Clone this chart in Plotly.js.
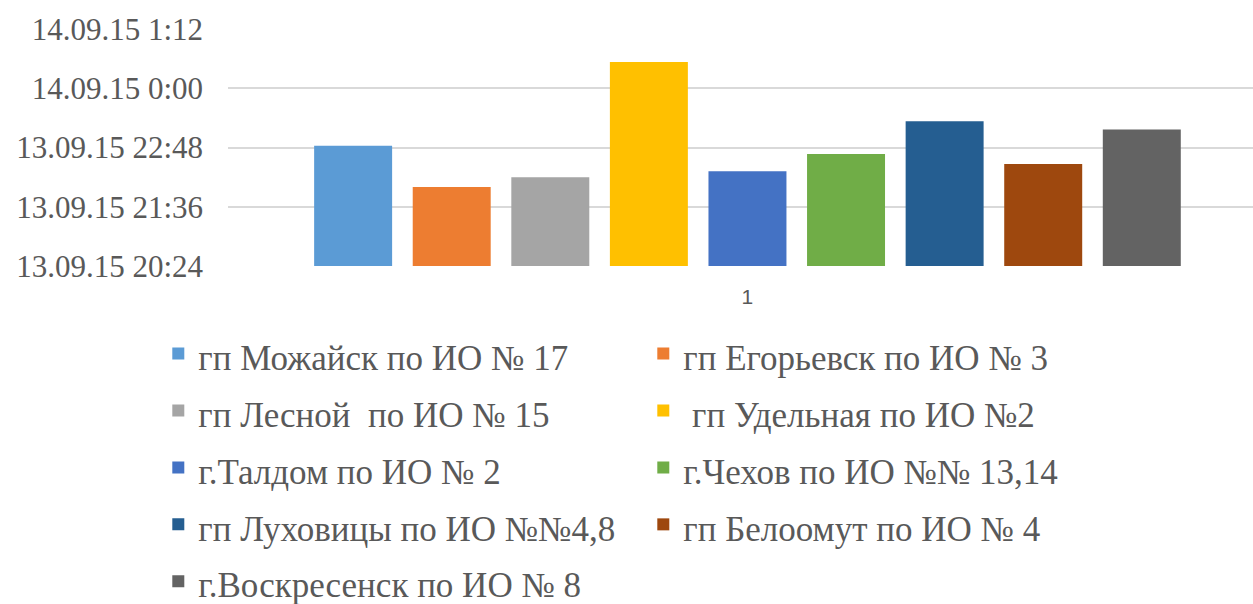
<!DOCTYPE html>
<html>
<head>
<meta charset="utf-8">
<script src="https://cdn.plot.ly/plotly-3.0.1.min.js"></script>
<style>
html,body{margin:0;padding:0;background:#fff;}
#chart{position:absolute;left:0;top:0;width:1253px;height:604px;}
#fontwarm{position:absolute;left:-10000px;top:0;font-family:'Liberation Serif';font-size:31px;}
</style>
</head>
<body>
<div id="fontwarm" aria-hidden="true">13.09.15 гп</div>
<div id="chart"></div>
<script>
// Data
var category = ['1'];
var seriesNames = [
  'гп Можайск по ИО № 17',
  'гп Егорьевск по ИО № 3',
  'гп Лесной  по ИО № 15',
  ' гп Удельная по ИО №2',
  'г.Талдом по ИО № 2',
  'г.Чехов по ИО №№ 13,14',
  'гп Луховицы по ИО №№4,8',
  'гп Белоомут по ИО № 4',
  'г.Воскресенск по ИО № 8'
];
var seriesTimes = [
  '2015-09-13T22:50',
  '2015-09-13T22:00',
  '2015-09-13T22:12',
  '2015-09-14T00:32',
  '2015-09-13T22:19',
  '2015-09-13T22:40',
  '2015-09-13T23:20',
  '2015-09-13T22:28',
  '2015-09-13T23:10'
];
var seriesColors = ['#5B9BD5','#ED7D31','#A5A5A5','#FFC000','#4472C4','#70AD47','#255E91','#9E480E','#636363'];
var axisStart = '2015-09-13T20:24';
var tickTimes = ['2015-09-13T20:24','2015-09-13T21:36','2015-09-13T22:48','2015-09-14T00:00','2015-09-14T01:12'];
var tickLabels = ['13.09.15 20:24','13.09.15 21:36','13.09.15 22:48','14.09.15 0:00','14.09.15 1:12'];

function minutesFromStart(t) {
  return (Date.parse(t + ':00Z') - Date.parse(axisStart + ':00Z')) / 60000;
}

var serifFont = 'Liberation Serif';

var traces = seriesNames.map(function(name, i) {
  return {
    type: 'bar',
    name: '<span style="font-size:35px">' + name + '</span>',
    x: category,
    y: [minutesFromStart(seriesTimes[i])],
    marker: {color: seriesColors[i]},
    hoverinfo: 'none'
  };
});

var tickVals = tickTimes.map(minutesFromStart);

var layout = {
  width: 1253,
  height: 604,
  margin: {l: 228, r: 0, t: 29, b: 338, autoexpand: false},
  paper_bgcolor: '#ffffff',
  plot_bgcolor: '#ffffff',
  barmode: 'group',
  bargap: 0.146,
  bargroupgap: 0.209,
  showlegend: true,
  font: {family: serifFont, color: '#595959'},
  xaxis: {
    type: 'category',
    range: [-0.5, 0.4866],
    showgrid: false,
    zeroline: false,
    showline: false,
    ticks: '',
    tickfont: {family: 'Liberation Sans', size: 21, color: '#595959'},
    ticklabelstandoff: 16
  },
  yaxis: {
    range: [tickVals[0], tickVals[tickVals.length - 1]],
    tickmode: 'array',
    tickvals: tickVals,
    ticktext: tickLabels,
    showgrid: true,
    gridcolor: '#d9d9d9',
    gridwidth: 2,
    zeroline: false,
    showline: false,
    ticks: '',
    tickfont: {family: serifFont, size: 31, color: '#595959'},
    ticklabelstandoff: 24
  },
  legend: {
    orientation: 'h',
    x: -0.068,
    xanchor: 'left',
    y: -0.228,
    yanchor: 'top',
    entrywidth: 440,
    entrywidthmode: 'pixels',
    font: {family: serifFont, size: 41.5, color: '#595959'},
    bgcolor: 'rgba(0,0,0,0)',
    traceorder: 'normal'
  }
};

Plotly.newPlot('chart', traces, layout, {displayModeBar: false, staticPlot: true});
</script>
</body>
</html>
